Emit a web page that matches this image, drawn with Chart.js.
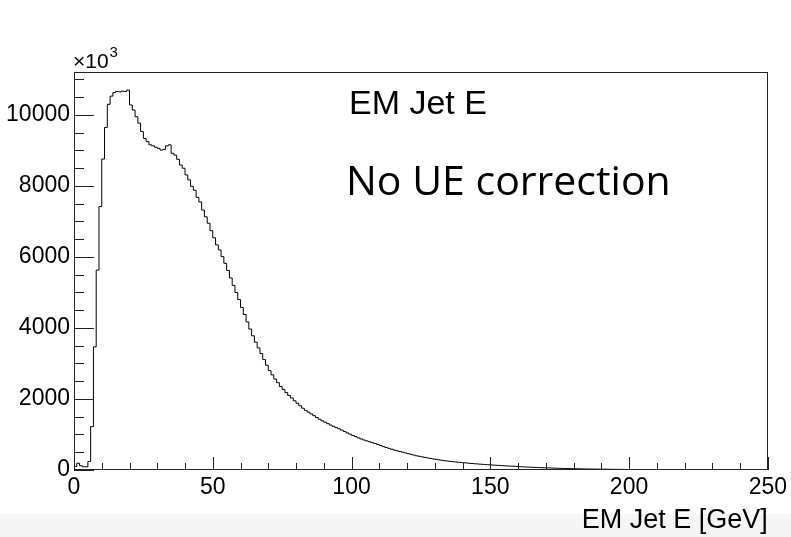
<!DOCTYPE html>
<html>
<head>
<meta charset="utf-8">
<title>EM Jet E</title>
<script src="https://cdn.jsdelivr.net/npm/chart.js@4.4.1/dist/chart.umd.min.js"></script>
<style>
    html, body { margin: 0; padding: 0; background: #fff; }
    #wrap { position: relative; width: 791px; height: 537px; }
    #band { position: absolute; left: 0; top: 514px; width: 791px; height: 23px; background: #f5f5f5; }
    #chart { position: absolute; left: 0; top: 0; }
</style>
</head>
<body>
<div id="wrap">
    <div id="band"></div>
    <canvas id="chart" width="791" height="537"></canvas>
</div>
<script>
// entries per 1 GeV bin, 0 - 250 GeV
const binWidth = 1;
const counts = [
    40, 100, 190, 120, 90, 90, 240, 1220, 3470, 5630,
    7420, 8760, 9650, 10300, 10530, 10630, 10660, 10650, 10670, 10660,
    10700, 10280, 10140, 9950, 9770, 9530, 9340, 9250, 9160, 9130,
    9090, 9060, 9010, 9030, 9130, 9160, 8920, 8870, 8750, 8590,
    8500, 8310, 8170, 7990, 7880, 7680, 7550, 7320, 7130, 6950,
    6740, 6540, 6340, 6200, 6010, 5820, 5620, 5410, 5200, 5000,
    4800, 4580, 4380, 4170, 3970, 3780, 3600, 3440, 3280, 3110,
    2950, 2800, 2680, 2560, 2460, 2350, 2270, 2180, 2100, 2030,
    1950, 1880, 1810, 1740, 1680, 1630, 1580, 1530, 1480, 1430,
    1385, 1345, 1305, 1265, 1230, 1195, 1160, 1125, 1085, 1045,
    1010, 975, 940, 905, 875, 845, 820, 795, 770, 745,
    720, 690, 660, 635, 610, 585, 560, 540, 520, 500,
    480, 460, 440, 420, 400, 385, 370, 355, 340, 325,
    310, 298, 286, 275, 264, 253, 243, 235, 227, 219,
    211, 204, 197, 190, 183, 176, 170, 164, 158, 152,
    147, 142, 137, 132, 127, 122, 117, 113, 109, 105,
    100, 95, 90, 86, 82, 78, 75, 72, 69, 66,
    63, 60, 57, 54, 51, 48, 46, 44, 42, 40,
    38, 36, 34, 32, 30, 29, 28, 27, 26, 25,
    24, 23, 22, 21, 20, 19, 18, 17, 16, 15,
    14, 13, 13, 12, 12, 11, 11, 10, 10, 9,
    9, 8, 8, 7, 7, 6, 0, 0, 0, 0,
    0, 0, 0, 0, 0, 0, 0, 0, 0, 0,
    0, 0, 0, 0, 0, 0, 0, 0, 0, 0,
    0, 0, 0, 0, 0, 0, 0, 0, 0, 0
];
const xTicks = [0, 50, 100, 150, 200, 250];
const yTicks = [0, 2000, 4000, 6000, 8000, 10000];
const xMinorStep = 10;
const yMinorStep = 500;
const xMax = 250;
const yMax = 11210;

// step outline: one point per bin low edge, plus the last upper edge
const points = counts.map((c, i) => ({ x: i * binWidth, y: c }));
points.push({ x: counts.length * binWidth, y: counts[counts.length - 1] });

const labelFont = "'Liberation Sans', Arial, sans-serif";

const rootFrame = {
    id: 'rootFrame',
    afterDatasetsDraw(chart) {
        const ctx = chart.ctx;
        const area = chart.chartArea;
        const xs = chart.scales.x;
        const ys = chart.scales.y;
        ctx.save();
        ctx.strokeStyle = '#222';
        ctx.lineWidth = 1;
        ctx.strokeRect(Math.round(area.left) + 0.5, Math.round(area.top) + 0.5,
            Math.round(area.right - area.left) - 1, Math.round(area.bottom - area.top) - 1);

        // ticks drawn inside the frame, ROOT style
        ctx.beginPath();
        for (let v = 0; v <= yMax; v += yMinorStep) {
            const y = Math.round(ys.getPixelForValue(v)) + 0.5;
            const len = yTicks.includes(v) ? 20 : 10;
            ctx.moveTo(area.left, y);
            ctx.lineTo(area.left + len, y);
        }
        for (let v = 0; v <= xMax; v += xMinorStep) {
            const x = Math.round(xs.getPixelForValue(v)) + 0.5;
            const len = xTicks.includes(v) ? 13 : 7;
            ctx.moveTo(x, area.bottom);
            ctx.lineTo(x, area.bottom - len);
        }
        ctx.stroke();

        ctx.fillStyle = '#000';
        ctx.textBaseline = 'alphabetic';
        ctx.textAlign = 'left';
        ctx.font = "21px " + labelFont;
        ctx.fillText('\u00d710', area.left - 1, 68);
        const w = ctx.measureText('\u00d710').width;
        ctx.font = "15px " + labelFont;
        ctx.fillText('3', area.left - 1 + w + 1, 57);

        ctx.font = "34px " + labelFont;
        ctx.fillText('EM Jet E', 349, 114);
        ctx.font = "41px 'Open Sans', 'Noto Sans', sans-serif";
        ctx.fillText('No UE correction', 346, 195);
        ctx.restore();
    }
};

new Chart(document.getElementById('chart'), {
    type: 'line',
    data: {
        datasets: [{
            label: 'EM Jet E',
            data: points,
            stepped: 'after',
            borderColor: '#000',
            borderWidth: 1,
            pointRadius: 0,
            fill: false
        }]
    },
    options: {
        responsive: false,
        animation: false,
        layout: { padding: { top: 72, right: 23, left: 0, bottom: 0 } },
        plugins: { legend: { display: false }, tooltip: { enabled: false } },
        scales: {
            x: {
                type: 'linear',
                min: 0,
                max: xMax,
                afterBuildTicks: s => { s.ticks = xTicks.map(v => ({ value: v })); },
                afterFit: s => { s.height = 67; },
                grid: { display: false, drawTicks: false },
                border: { display: false },
                ticks: {
                    autoSkip: false,
                    maxRotation: 0,
                    padding: 4,
                    color: '#000',
                    font: { family: labelFont, size: 23 },
                    callback: v => String(v)
                },
                title: {
                    display: true,
                    text: 'EM Jet E [GeV]',
                    align: 'end',
                    color: '#000',
                    font: { family: labelFont, size: 27 },
                    padding: { top: 0, bottom: 0 }
                }
            },
            y: {
                type: 'linear',
                min: 0,
                max: yMax,
                afterBuildTicks: s => { s.ticks = yTicks.map(v => ({ value: v })); },
                afterFit: s => { s.width = 74; },
                grid: { display: false, drawTicks: false },
                border: { display: false },
                ticks: {
                    padding: 4,
                    color: '#000',
                    font: { family: labelFont, size: 23 },
                    callback: v => String(v)
                }
            }
        }
    },
    plugins: [rootFrame]
});
</script>
</body>
</html>
